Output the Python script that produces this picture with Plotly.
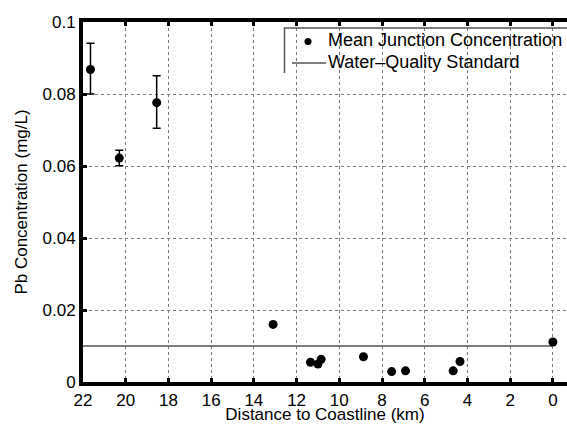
import plotly.graph_objects as go

# Data
distance_km = [21.65, 20.3, 18.55, 13.1, 11.35, 11.0, 10.85, 8.87, 7.55, 6.9, 4.67, 4.35, 0.0]
pb_mg_l = [0.0868, 0.0622, 0.0776, 0.0160, 0.0055, 0.0050, 0.0063, 0.0070, 0.0029, 0.0031, 0.0031, 0.0057, 0.0111]
err_plus = [0.0073, 0.0022, 0.0075, 0, 0, 0, 0, 0, 0, 0, 0, 0, 0]
err_minus = [0.0068, 0.0021, 0.0071, 0, 0, 0, 0, 0, 0, 0, 0, 0, 0]

standard_x = [22, 0]
standard_y = [0.01, 0.01]

x_ticks = [22, 20, 18, 16, 14, 12, 10, 8, 6, 4, 2, 0]
y_ticks = [0, 0.02, 0.04, 0.06, 0.08, 0.1]
y_ticktext = ["0", "0.02", "0.04", "0.06", "0.08", "0.1"]

legend_labels = ["Mean Junction Concentration", "Water\u2013Quality Standard"]
x_title = "Distance to Coastline (km)"
y_title = "Pb Concentration (mg/L)"

W, H = 567, 424
L, R, T, B = 83, 0, 22, 42
FONT = "Liberation Sans"

fig = go.Figure()

# main data
fig.add_trace(go.Scatter(
    x=standard_x, y=standard_y, mode="lines",
    line=dict(color="#555555", width=1.6), showlegend=False, hoverinfo="skip"))

fig.add_trace(go.Scatter(
    x=distance_km, y=pb_mg_l, mode="markers",
    marker=dict(color="black", size=9),
    error_y=dict(type="data", symmetric=False, array=err_plus, arrayminus=err_minus,
                 color="black", thickness=1.5, width=4),
    showlegend=False))

# hand-drawn legend on a hidden overlay axis pair measured in pixels
LEG = dict(color="#555555", width=1.5)
fig.add_trace(go.Scatter(x=[284.5, 284.5, W], y=[73, 28, 28], mode="lines", line=LEG,
                         xaxis="x2", yaxis="y2", showlegend=False, hoverinfo="skip"))
fig.add_trace(go.Scatter(x=[308], y=[41.5], mode="markers",
                         marker=dict(color="black", size=7),
                         xaxis="x2", yaxis="y2", showlegend=False, hoverinfo="skip"))
fig.add_trace(go.Scatter(x=[292, 326], y=[63, 63], mode="lines",
                         line=dict(color="#555555", width=1.6),
                         xaxis="x2", yaxis="y2", showlegend=False, hoverinfo="skip"))
fig.add_trace(go.Scatter(x=[328, 328], y=[41.5, 63], mode="text", text=legend_labels,
                         textposition="middle right", cliponaxis=False,
                         textfont=dict(family=FONT, size=18, color="black"),
                         xaxis="x2", yaxis="y2", showlegend=False, hoverinfo="skip"))

axis_style = dict(showline=True, linecolor="black", linewidth=4,
                  showgrid=True, gridcolor="#7a7a7a", gridwidth=1, griddash="dot",
                  zeroline=False, ticks="inside", ticklen=4, tickwidth=3, tickcolor="black",
                  tickfont=dict(family=FONT, size=17, color="black"))

fig.update_layout(
    width=W, height=H,
    margin=dict(l=L, r=R, t=T, b=B),
    plot_bgcolor="white",
    xaxis=dict(range=[22, -0.66], tickmode="array", tickvals=x_ticks, mirror="ticks",
               title=dict(text=x_title, standoff=2, font=dict(family=FONT, size=17, color="black")),
               **axis_style),
    yaxis=dict(range=[0, 0.1], tickmode="array", tickvals=y_ticks, ticktext=y_ticktext,
               mirror=False,
               title=dict(text=y_title, standoff=12, font=dict(family=FONT, size=17, color="black")),
               **axis_style),
    xaxis2=dict(overlaying="x", range=[L, W], visible=False, fixedrange=True),
    yaxis2=dict(overlaying="y", range=[H - B, T], visible=False, fixedrange=True),
)

fig.write_html("out.html")
